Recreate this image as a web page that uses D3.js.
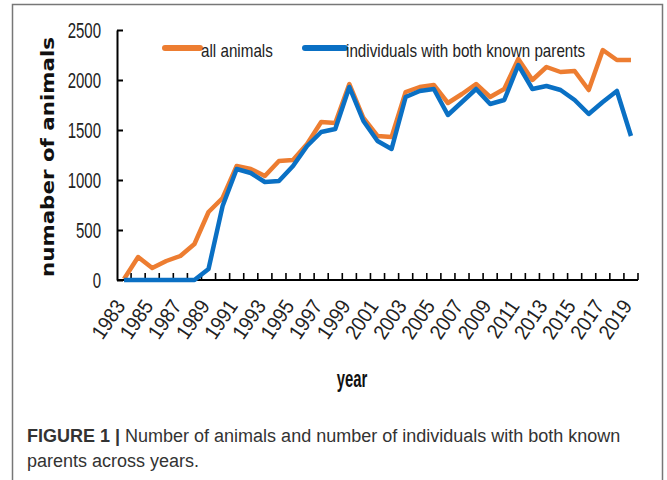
<!doctype html>
<html lang="en">
<head>
<meta charset="UTF-8">
<title>d3</title>
<script src="https://d3js.org/d3.v7.min.js"></script>
<style>
  body { margin: 0; background: #fff; }
  .narrow { font-family: "Liberation Sans", Arial, sans-serif; }
</style>
</head>
<body>
<div class="canvas"></div>
<script>
  // years on the x axis
  const years = [1983, 1984, 1985, 1986, 1987, 1988, 1989, 1990, 1991, 1992,
    1993, 1994, 1995, 1996, 1997, 1998, 1999, 2000, 2001, 2002,
    2003, 2004, 2005, 2006, 2007, 2008, 2009, 2010, 2011, 2012,
    2013, 2014, 2015, 2016, 2017, 2018, 2019];
  // all animals
  const allAnimals = [10, 230, 120, 190, 240, 360, 680, 820, 1140, 1110,
    1040, 1190, 1200, 1360, 1580, 1570, 1960, 1620, 1440, 1430,
    1880, 1930, 1950, 1770, 1860, 1960, 1830, 1910, 2210, 2000,
    2130, 2080, 2090, 1900, 2300, 2200, 2200];
  // individuals with both known parents
  const bothParents = [0, 0, 0, 0, 0, 0, 110, 740, 1110, 1070,
    980, 990, 1140, 1340, 1480, 1510, 1930, 1590, 1390, 1310,
    1830, 1890, 1910, 1650, 1780, 1910, 1760, 1800, 2150, 1910,
    1940, 1900, 1800, 1660, 1780, 1890, 1440];
  const yTicks = [0, 500, 1000, 1500, 2000, 2500];
  const xLabels = years.filter(y => y % 2 === 1);

  const W = 667, H = 480;
  const svg = d3.select('.canvas').append('svg')
    .attr('width', W).attr('height', H);

  // the chart font is tall and narrow: squeeze text to a share of its width
  function squeeze(sel, k) {
    sel.each(function () {
      const len = this.getComputedTextLength();
      d3.select(this).attr('textLength', len * k).attr('lengthAdjust', 'spacingAndGlyphs');
    });
  }

  // frame round the figure
  svg.append('rect')
    .attr('x', 12.5).attr('y', 4.5).attr('width', 650).attr('height', 500)
    .attr('fill', 'none').attr('stroke', '#777').attr('stroke-width', 1.5);

  const mLeft = 117, mRight = 638, mTop = 30, mBottom = 280;

  const x = d3.scaleBand().domain(years).range([mLeft, mRight]);
  const cx = d => x(d) + x.bandwidth() / 2;
  const y = d3.scaleLinear().domain([0, 2500]).range([mBottom, mTop]);

  // y axis
  const gy = svg.append('g').attr('transform', `translate(${mLeft},0)`)
    .call(d3.axisLeft(y).tickValues(yTicks).tickFormat(d3.format('d'))
      .tickSize(-6).tickSizeOuter(0));
  gy.select('.domain').attr('stroke', '#000').attr('stroke-width', 2);
  gy.selectAll('.tick line').attr('stroke', '#000').attr('stroke-width', 2);
  gy.selectAll('.tick text')
    .attr('class', 'narrow')
    .attr('font-size', 22).attr('fill', '#222')
    .attr('x', -16)
    .attr('dy', '0.36em')
    .call(squeeze, 0.68);

  // x axis: ticks on the band edges, pointing up
  const edges = years.map(d => x(d)).concat([mRight]).slice(1);
  svg.append('line')
    .attr('x1', mLeft).attr('x2', mRight).attr('y1', mBottom).attr('y2', mBottom)
    .attr('stroke', '#000').attr('stroke-width', 2);
  svg.append('g').selectAll('line').data(edges).join('line')
    .attr('x1', d => d).attr('x2', d => d)
    .attr('y1', mBottom).attr('y2', mBottom - 7)
    .attr('stroke', '#000').attr('stroke-width', 1.6);

  svg.append('g').selectAll('text').data(xLabels).join('text')
    .attr('class', 'narrow')
    .attr('transform', d => `translate(${cx(d) + 2},${mBottom + 26}) rotate(-56)`)
    .attr('text-anchor', 'end')
    .attr('font-size', 21)
    .attr('fill', '#222')
    .text(d => d)
    .call(squeeze, 0.9);

  // lines
  const line = d3.line().x((d, i) => cx(years[i])).y(d => y(d));
  svg.append('path').datum(allAnimals)
    .attr('d', line).attr('fill', 'none')
    .attr('stroke', '#ED7D31').attr('stroke-width', 4.5).attr('stroke-linejoin', 'round');
  svg.append('path').datum(bothParents)
    .attr('d', line).attr('fill', 'none')
    .attr('stroke', '#0A70C4').attr('stroke-width', 4.5).attr('stroke-linejoin', 'round');

  // legend
  const legend = [
    { name: 'all animals', color: '#ED7D31', x1: 165, x2: 200 },
    { name: 'individuals with both known parents', color: '#0A70C4', x1: 305, x2: 345 }
  ];
  const lg = svg.append('g').selectAll('g').data(legend).join('g');
  lg.append('line')
    .attr('x1', d => d.x1).attr('x2', d => d.x2).attr('y1', 48).attr('y2', 48)
    .attr('stroke', d => d.color).attr('stroke-width', 6).attr('stroke-linecap', 'round');
  lg.append('text')
    .attr('class', 'narrow')
    .attr('x', d => d.x2 + 1).attr('y', 57)
    .attr('font-size', 19).attr('fill', '#222')
    .text(d => d.name)
    .call(squeeze, 0.8);

  // axis titles
  svg.append('text')
    .attr('transform', 'translate(54,157) rotate(-90)')
    .attr('text-anchor', 'middle')
    .attr('font-family', 'DejaVu Sans, sans-serif')
    .attr('font-weight', 'bold').attr('font-size', 18)
    .attr('textLength', 240).attr('lengthAdjust', 'spacingAndGlyphs')
    .attr('fill', '#111')
    .text('numaber of animals');

  svg.append('text')
    .attr('class', 'narrow')
    .attr('x', 352).attr('y', 387)
    .attr('text-anchor', 'middle')
    .attr('font-weight', 'bold').attr('font-size', 24).attr('fill', '#111')
    .text('year')
    .call(squeeze, 0.62);

  // caption
  const cap = svg.append('text')
    .attr('x', 27).attr('y', 442)
    .attr('font-family', 'Liberation Sans, sans-serif')
    .attr('font-size', 18).attr('fill', '#333');
  cap.append('tspan').attr('font-weight', 'bold').text('FIGURE 1 | ');
  cap.append('tspan').text('Number of animals and number of individuals with both known');
  svg.append('text')
    .attr('x', 27).attr('y', 467)
    .attr('font-family', 'Liberation Sans, sans-serif')
    .attr('font-size', 18).attr('fill', '#333')
    .text('parents across years.');
</script>
</body>
</html>
